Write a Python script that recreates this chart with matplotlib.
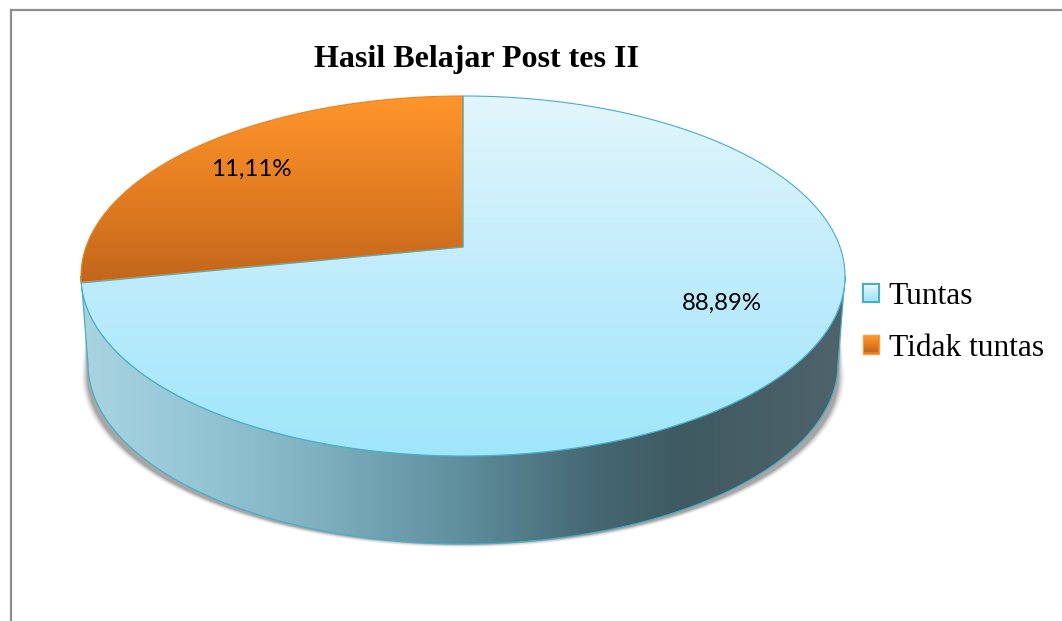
import numpy as np
import matplotlib
matplotlib.use("Agg")
import matplotlib.pyplot as plt
from matplotlib.colors import LinearSegmentedColormap
from matplotlib.lines import Line2D
from matplotlib.patches import Patch, Polygon

# ---- data ----
title_text = "Hasil Belajar Post tes II"
categories = ["Tuntas", "Tidak tuntas"]
value_labels = ["88,89%", "11,11%"]
# share of the disc each slice occupies as drawn in the picture
drawn_shares = [71.9, 28.1]

W, H = 1062, 621
CX, CY, RX, RY = 463.0, 276.0, 382.0, 180.0     # top ellipse, pixels
VY = 247.0                                      # perspective apex of the slices
BOT_CY, BOT_RX = 364.0, 375.0                   # bottom rim of the wall

BLUE_STOPS = [(0, "#e2f6fc"), (0.5, "#c0ecfb"), (1, "#9fe6fc")]
ORANGE_STOPS = [(0, "#ff952b"), (0.5, "#e57e22"), (1, "#c2661b")]

fig = plt.figure(figsize=(W / 100, H / 100), dpi=100, facecolor="white")
ax = fig.add_axes([0, 0, 1, 1])
ax.set_axis_off()


def px(x, y):
    return (x - CX) / RX, (CY - y) / RY


def vgrad(stops, y0, y1, clip, z, x0=0, x1=W):
    cmap = LinearSegmentedColormap.from_list("v", stops)
    x0p, y0p = px(x0, y0)
    x1p, y1p = px(x1, y1)
    im = ax.imshow(np.linspace(0, 1, 256)[:, None], cmap=cmap, aspect="auto",
                   extent=(x0p, x1p, y1p, y0p), origin="upper", zorder=z,
                   interpolation="bilinear")
    if clip is not None:
        im.set_clip_path(clip)
    return im


def reset_limits():
    ax.set_aspect("auto")
    ax.set_xlim(px(0, 0)[0], px(W, 0)[0])
    ax.set_ylim(px(0, H)[1], px(0, 0)[1])


# pie, centred on the apex, larger than the disc; its wedges are cut by the disc
apex = px(CX, VY)
wedges, _ = ax.pie(drawn_shares, startangle=90, counterclock=False, radius=2.5,
                   center=apex, frame=False,
                   wedgeprops=dict(facecolor="none", edgecolor="none"))
reset_limits()

tt = np.radians(np.linspace(0, 360, 1441))
ring = np.column_stack([np.cos(tt), np.sin(tt)])


def sector(wedge, edge, lw, z):
    ang = np.degrees(np.arctan2(ring[:, 1] - apex[1], ring[:, 0] - apex[0])) % 360
    lo, hi = wedge.theta1 % 360, wedge.theta2 % 360
    inside = (ang >= lo) & (ang <= hi) if lo < hi else (ang >= lo) | (ang <= hi)
    pts = ring[inside]
    pts = pts[np.argsort((ang[inside] - lo) % 360)]
    poly = Polygon(np.vstack([[apex], pts]), closed=True, facecolor="none",
                   edgecolor=edge, linewidth=lw, zorder=z)
    ax.add_patch(poly)
    return poly


# wall: lower half of the disc joined to the bottom rim
t = np.radians(np.linspace(180, 360, 361))
top_rim = np.column_stack([np.cos(t), np.sin(t)])
bot_x = CX + BOT_RX * np.cos(t[::-1])
bot_y = BOT_CY - RY * np.sin(t[::-1])
bot_rim = np.column_stack([(bot_x - CX) / RX, (CY - bot_y) / RY])

# soft shadow round the wall
for grow, a in zip([7, 6, 5, 4, 3, 2, 1], [.02, .03, .04, .05, .07, .09, .10]):
    sx = CX + (BOT_RX + grow) * np.cos(t[::-1])
    sy = BOT_CY + 12 - (RY - 12 + grow * 0.5) * np.sin(t[::-1])
    shadow = np.column_stack([(sx - CX) / RX, (CY - sy) / RY])
    ax.add_patch(Polygon(np.vstack([[px(840, 330)], shadow, [px(86, 330)]]),
                         closed=True, facecolor="black", alpha=a, edgecolor="none", zorder=1))

wall = Polygon(np.vstack([top_rim, bot_rim]), closed=True, facecolor="none",
               edgecolor="#4bacc6", linewidth=0.9, zorder=3)
ax.add_patch(wall)
wall_stops = [(0.0, "#a9d4e2"), (0.15, "#95c6d6"), (0.30, "#80b2c2"), (0.50, "#5f8e9c"),
              (0.66, "#466a75"), (0.78, "#3f5a62"), (1.0, "#4f636b")]
wall_cmap = LinearSegmentedColormap.from_list("wall", wall_stops)
xa, xb = px(81, 0)[0], px(845, 0)[0]
ya, yb = px(0, 270)[1], px(0, 550)[1]
wim = ax.imshow(np.linspace(0, 1, 512)[None, :], cmap=wall_cmap, aspect="auto",
                extent=(xa, xb, yb, ya), zorder=2, interpolation="bilinear")
wim.set_clip_path(wall)

# slice fills
vgrad(ORANGE_STOPS, 96, 282, sector(wedges[1], "#e8841f", 0.8, 6), 4)
vgrad(BLUE_STOPS, 96, 456, sector(wedges[0], "#4bacc6", 0.8, 7), 5)
reset_limits()

# slice value labels
for txt, (lx, ly) in zip(value_labels, [(722, 303.5), (251, 169.5)]):
    ax.text(*px(lx, ly), txt, ha="center", va="center", fontsize=17.3,
            family="Lato", color="black", zorder=8)

# title
fig.text(477 / W, 1 - 60 / H, title_text, ha="center", va="center", fontsize=23,
         fontweight="bold", family="Liberation Serif")

# legend
handles = [Patch(facecolor="#c9eefa", edgecolor="#4bacc6", linewidth=1.6, label=categories[0]),
           Patch(facecolor="#e57e22", edgecolor="#ff9a3c", linewidth=1.0, label=categories[1])]
leg = ax.legend(handles=handles, loc="center left",
                bbox_to_anchor=(863 / W, 1 - 322.5 / H), bbox_transform=fig.transFigure,
                frameon=False, prop=dict(family="Liberation Serif", size=22.7),
                handlelength=0.52, handleheight=0.52, handletextpad=0.3,
                labelspacing=0.70, borderpad=0, borderaxespad=0)

# gradient inside the legend swatches
fig.canvas.draw()
inv = ax.transData.inverted()
for patch, stops in zip(leg.get_patches(), [BLUE_STOPS, ORANGE_STOPS]):
    bb = patch.get_window_extent()
    (x0, y0), (x1, y1) = inv.transform([(bb.x0 + 1.5, bb.y0 + 1.5), (bb.x1 - 1.5, bb.y1 - 1.5)])
    cmap = LinearSegmentedColormap.from_list("sw", stops)
    ax.imshow(np.linspace(0, 1, 32)[:, None], cmap=cmap, aspect="auto",
              extent=(x0, x1, y0, y1), origin="upper", zorder=6,
              interpolation="bilinear")
reset_limits()

# chart frame: top and left edges only reach the picture border
for xs, ys in [((10.5, W), (10, 10)), ((10.5, 10.5), (10, H))]:
    fig.add_artist(Line2D([x / W for x in xs], [1 - y / H for y in ys],
                          transform=fig.transFigure, color="#8e8e8e", linewidth=1.6))

fig.savefig("out.png", dpi=100, facecolor="white")
